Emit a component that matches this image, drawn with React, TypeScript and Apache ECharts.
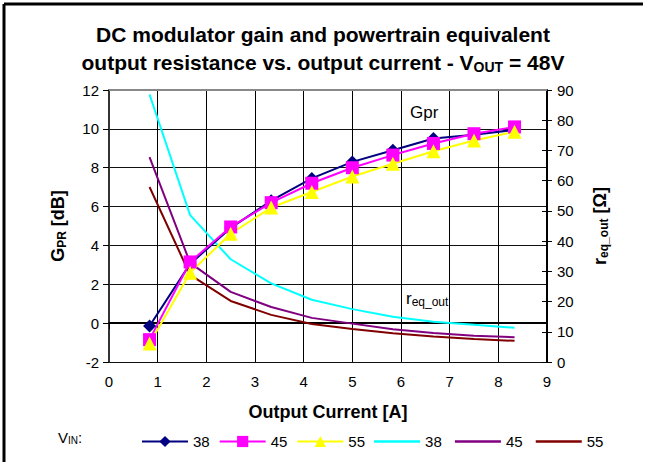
import React, { useEffect, useRef } from 'react';
import * as echarts from 'echarts';

const current = [0.833, 1.667, 2.5, 3.333, 4.167, 5, 5.833, 6.667, 7.5, 8.333];
const gpr38 = [-0.15, 3.05, 4.9, 6.3, 7.45, 8.3, 8.9, 9.5, 9.7, 9.95];
const gpr45 = [-0.85, 3.15, 4.95, 6.2, 7.2, 8.0, 8.65, 9.25, 9.75, 10.1];
const gpr55 = [-1.05, 2.6, 4.6, 5.95, 6.75, 7.55, 8.2, 8.85, 9.4, 9.85];
const r38 = [88.5, 48.6, 34.0, 26.0, 20.6, 17.5, 15.0, 13.3, 12.3, 11.3];
const r45 = [67.8, 32.8, 23.2, 18.2, 14.6, 12.7, 10.8, 9.6, 8.7, 8.2];
const r55 = [57.9, 28.8, 20.2, 15.6, 12.6, 10.9, 9.5, 8.4, 7.6, 7.0];
const gprNames = ['38', '45', '55'];
const rNames = ['38 ', '45 ', '55 '];

const FONT = '"Liberation Sans", Arial, sans-serif';
const LINE_ICON = 'path://M0,0h46v2.5h-46z';

const pairs = (ys: number[]) => current.map((x, i) => [x, ys[i]]);

export default function App() {
  const ref = useRef<HTMLDivElement>(null);
  useEffect(() => {
    const chart = echarts.init(ref.current!, null, { renderer: 'svg' });
    const gprSeries = (name: string, data: number[], color: string, symbol: string, size: number) => ({
      name,
      type: 'line',
      yAxisIndex: 0,
      data: pairs(data),
      symbol,
      symbolSize: size,
      lineStyle: { color, width: 2 },
      itemStyle: { color, borderWidth: 0 },
      z: 3,
    });
    const rSeries = (name: string, data: number[], color: string) => ({
      name,
      type: 'line',
      yAxisIndex: 1,
      data: pairs(data),
      symbol: 'none',
      showSymbol: false,
      lineStyle: { color, width: 2 },
      itemStyle: { color },
      z: 2,
    });
    chart.setOption({
      animation: false,
      backgroundColor: '#fff',
      textStyle: { fontFamily: FONT },
      title: {
        left: 'center',
        top: 15,
        text: '{b|DC modulator gain and powertrain equivalent}\n{b|output resistance vs. output current - V}{s|OUT}{b| = 48V}',
        textStyle: {
          rich: {
            b: { fontFamily: FONT, fontSize: 21, fontWeight: 'bold', color: '#000', lineHeight: 28 },
            s: { fontFamily: FONT, fontSize: 14, fontWeight: 'bold', color: '#000', lineHeight: 28, padding: [10, 0, 0, 0] },
          },
        },
      },
      legend: {
        left: 136,
        top: 429,
        itemWidth: 46,
        itemHeight: 14,
        itemGap: 9,
        data: [
          ...gprNames.map((n) => ({ name: n })),
          ...rNames.map((n) => ({ name: n, icon: LINE_ICON })),
        ],
        textStyle: { fontFamily: FONT, fontSize: 15, color: '#000' },
        selectedMode: false,
      },
      grid: { left: 109, right: 99, top: 90, bottom: 100 },
      xAxis: {
        type: 'value',
        min: 0,
        max: 9,
        interval: 1,
        axisLine: { show: true, lineStyle: { color: '#000', width: 2 } },
        axisTick: { show: true, length: 6, lineStyle: { color: '#000', width: 1 } },
        axisLabel: { fontFamily: FONT, fontSize: 15, color: '#000', margin: 12 },
        splitLine: { show: true, lineStyle: { color: '#000', width: 1 } },
        name: 'Output Current [A]',
        nameLocation: 'middle',
        nameGap: 41,
        nameTextStyle: { fontFamily: FONT, fontSize: 18, fontWeight: 'bold', color: '#000' },
      },
      yAxis: [
        {
          type: 'value',
          min: -2,
          max: 12,
          interval: 2,
          position: 'left',
          axisLine: { show: true, onZero: false, lineStyle: { color: '#333', width: 2 } },
          axisTick: { show: true, length: 6, lineStyle: { color: '#000', width: 1 } },
          axisLabel: { fontFamily: FONT, fontSize: 15, color: '#000', margin: 10 },
          splitLine: { show: true, lineStyle: { color: '#111', width: 1 } },
        },
        {
          type: 'value',
          min: 0,
          max: 90,
          interval: 10,
          position: 'right',
          axisLine: { show: true, onZero: false, lineStyle: { color: '#000', width: 2 } },
          axisTick: { show: true, length: 5, lineStyle: { color: '#000', width: 1 } },
          axisLabel: { fontFamily: FONT, fontSize: 15, color: '#000', margin: 10 },
          splitLine: { show: false },
        },
        {
          type: 'value',
          min: 0,
          max: 90,
          interval: 10,
          position: 'right',
          axisLine: { show: false, onZero: false },
          axisTick: { show: true, inside: true, length: 5, lineStyle: { color: '#000', width: 1 } },
          axisLabel: { show: false },
          splitLine: { show: false },
        },
      ],
      graphic: [
        { type: 'line', silent: true, shape: { x1: 4, y1: 4, x2: 643, y2: 4 }, style: { stroke: '#000', lineWidth: 3 } },
        { type: 'line', silent: true, shape: { x1: 4, y1: 4, x2: 4, y2: 462 }, style: { stroke: '#000', lineWidth: 3 } },
        { type: 'line', silent: true, z: 10, shape: { x1: 109, y1: 90, x2: 547, y2: 90 }, style: { stroke: '#888', lineWidth: 2 } },
        {
          type: 'text',
          x: 58,
          y: 226,
          rotation: Math.PI / 2,
          style: {
            text: '{b|G}{s|PR}{b| [dB]}',
            align: 'center',
            verticalAlign: 'middle',
            rich: {
              b: { fontFamily: FONT, fontSize: 18, fontWeight: 'bold', fill: '#000', lineHeight: 22 },
              s: { fontFamily: FONT, fontSize: 12, fontWeight: 'bold', fill: '#000', lineHeight: 22, padding: [7, 0, 0, 0] },
            },
          },
        },
        {
          type: 'text',
          x: 600,
          y: 226,
          rotation: Math.PI / 2,
          style: {
            text: '{b|r}{s|eq_out}{b| [Ω]}',
            align: 'center',
            verticalAlign: 'middle',
            rich: {
              b: { fontFamily: FONT, fontSize: 18, fontWeight: 'bold', fill: '#000', lineHeight: 22 },
              s: { fontFamily: FONT, fontSize: 12, fontWeight: 'bold', fill: '#000', lineHeight: 22, padding: [7, 0, 0, 0] },
            },
          },
        },
        {
          type: 'text',
          x: 410,
          y: 112,
          style: { text: 'Gpr', fontFamily: FONT, fontSize: 17, fill: '#000', verticalAlign: 'middle' },
        },
        {
          type: 'text',
          x: 406,
          y: 298,
          style: {
            text: '{b|r}{s|eq_out}',
            verticalAlign: 'middle',
            rich: {
              b: { fontFamily: FONT, fontSize: 17, fill: '#000', lineHeight: 22 },
              s: { fontFamily: FONT, fontSize: 12, fill: '#000', lineHeight: 22, padding: [7, 0, 0, 0] },
            },
          },
        },
        {
          type: 'text',
          x: 58,
          y: 437,
          style: {
            text: '{b|V}{s|IN}{b|:}',
            verticalAlign: 'middle',
            rich: {
              b: { fontFamily: FONT, fontSize: 15, fill: '#000', lineHeight: 20 },
              s: { fontFamily: FONT, fontSize: 10, fill: '#000', lineHeight: 20, padding: [6, 0, 0, 0] },
            },
          },
        },
      ],
      series: [
        gprSeries(gprNames[0], gpr38, '#000080', 'diamond', 13),
        gprSeries(gprNames[1], gpr45, '#FF00FF', 'rect', 13),
        gprSeries(gprNames[2], gpr55, '#FFFF00', 'triangle', 14),
        rSeries(rNames[0], r38, '#00FFFF'),
        rSeries(rNames[1], r45, '#800080'),
        rSeries(rNames[2], r55, '#800000'),
      ],
    });
    return () => chart.dispose();
  }, []);
  return <div ref={ref} style={{ position: 'absolute', left: 0, top: 0, width: 646, height: 462 }} />;
}
